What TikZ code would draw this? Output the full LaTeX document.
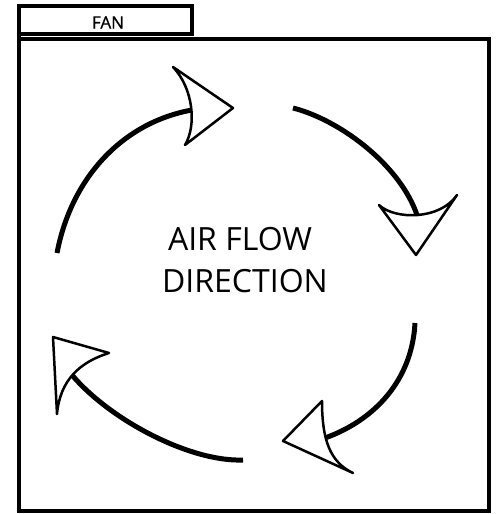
\documentclass[tikz,border=0pt]{standalone}
\usepackage{fontspec}
\setmainfont{Open Sans}
\newfontfamily\tabfont[FakeBold=1]{Open Sans}
\usetikzlibrary{calc,positioning}

\begin{document}
\begin{tikzpicture}[x=1pt,y=-1pt,
    frame/.style={line width=4pt},
    flow/.style={line width=5pt},
    head/.style={draw,fill=white,line width=2.5pt,line join=round},
    bigtxt/.style={font=\fontsize{32}{40}\selectfont,inner sep=0pt}]
  \useasboundingbox (0,0) rectangle (498,514);
  % fan housing
  \draw[frame] (18.5,39) -- (18.5,6) -- (191.5,6) -- (191.5,34) -- (18.5,34);
  \draw[frame] (18.5,39) rectangle (488.5,511);
  \node[font=\tabfont\fontsize{17}{19}\selectfont,inner sep=0pt,anchor=base] (fan) at (108,28.5) {FAN};
  % text in the middle
  \node[bigtxt,anchor=base] (airtxt) at (240,250) {AIR FLOW};
  \node[bigtxt,anchor=base] (dirtxt) at (245,292) {DIRECTION};
  % ends of the four arcs
  \coordinate (tlS) at (57,253);   \coordinate (tlE) at (192,110);
  \coordinate (trS) at (293,108);  \coordinate (trE) at (417,215);
  \coordinate (brS) at (415,323);  \coordinate (brE) at (325,438);
  \coordinate (blS) at (243,460);  \coordinate (blE) at (72,375);
  \draw[flow] (tlS) .. controls (72,175) and (125,122) .. (tlE);
  \draw[flow] (trS) .. controls (340,120) and (400,165) .. (trE);
  \draw[flow] (brS) .. controls (412,380) and (375,420) .. (brE);
  \draw[flow] (blS) .. controls (190,462) and (110,420) .. (blE);
  % arrow heads
  \draw[head] (173,67) -- (233,108) -- (185,145)
    .. controls (197,125) and (193,88) .. cycle;
  \draw[head] (379,205) -- (416,255) -- (457,195)
    .. controls (440,220) and (395,220) .. cycle;
  \draw[head] (322,401) -- (283,441) -- (353,473)
    .. controls (330,462) and (322,440) .. cycle;
  \draw[head] (109,353) -- (53,337) -- (57,414)
    .. controls (60,380) and (80,362) .. cycle;
\end{tikzpicture}
\end{document}
